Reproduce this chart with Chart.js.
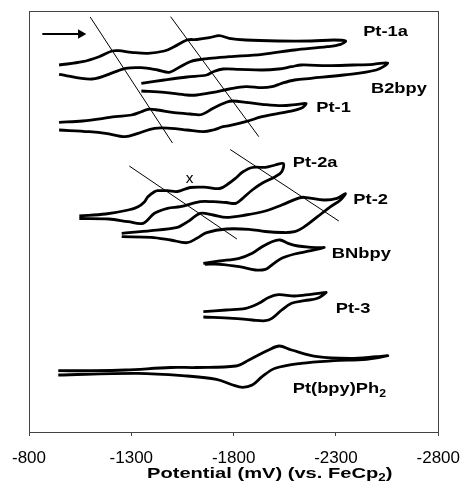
<!DOCTYPE html>
<html>
<head>
<meta charset="utf-8">
<script src="https://cdn.jsdelivr.net/npm/chart.js@4.4.1/dist/chart.umd.min.js"></script>
<style>
  html, body { margin: 0; padding: 0; background: #fff; }
</style>
</head>
<body>
<canvas id="cv" width="472" height="494"></canvas>
<script>
// Potentials in mV vs FeCp2; currents are stacked offsets in arbitrary units.
// Each loop runs forward (to negative potential) then back.
const pt1aV = [-947, -1062, -1142, -1206, -1238, -1301, -1381, -1461, -1509, -1572, -1620, -1682, -1730, -1778, -1859, -2017, -2180, -2290, -2347,
               -2323, -2257, -2098, -1940, -1778, -1682, -1620, -1587, -1539, -1486, -1429, -1348, -1271, -1223, -1108, -947];
const pt1aI = [367, 370.3, 375.3, 381, 381.3, 379.7, 378.7, 381, 385.3, 392, 392.5, 394.3, 396.3, 393.7, 392, 391, 391, 392, 391,
               387.7, 385.3, 382, 377.7, 375.3, 373.7, 372, 370.3, 365.3, 359.7, 362, 364.3, 363.7, 360.3, 353, 357.7];

const b2bpyV = [-1349, -1461, -1572, -1668, -1700, -1748, -1827, -1939, -2019, -2083, -2130, -2258, -2385, -2481, -2553,
                -2497, -2338, -2178, -2098, -2035, -1987, -1939, -1859, -1779, -1700, -1620, -1572, -1461, -1349];
const b2bpyI = [348.7, 352, 355, 357, 360.3, 363, 362.7, 362, 363, 365.3, 367, 366.3, 367, 367.7, 369,
                362, 357, 353.7, 352, 348.7, 345.3, 344.3, 345.3, 343, 339.7, 337, 337, 339.7, 341];

const pt1V = [-947, -1062, -1222, -1301, -1349, -1381, -1429, -1509, -1588, -1644, -1700, -1764, -1796, -1859, -1939, -2035, -2114, -2154,
              -2130, -2066, -1939, -1859, -1779, -1748, -1700, -1652, -1572, -1492, -1413, -1333, -1270, -1174, -1094, -947];
const pt1I = [309.7, 311, 315.3, 317, 320.3, 322.7, 322, 319.3, 318, 317.5, 323.7, 329.7, 331, 329.7, 327.7, 326.3, 327.7, 328.5,
              323.7, 320.3, 315.3, 310.3, 306.3, 305.3, 302, 300.3, 302, 303.7, 303.7, 298.7, 295.3, 298.7, 300.3, 302];

const pt2aV = [-1046, -1174, -1285, -1333, -1365, -1381, -1413, -1429, -1477, -1525, -1588, -1668, -1732, -1779, -1811, -1844, -1891, -1955, -2003, -2043,
               -2035, -2003, -1939, -1891, -1844, -1811, -1764, -1700, -1636, -1540, -1477, -1413, -1357, -1285, -1190, -1046];
const pt2aI = [216, 218, 222, 225.3, 230.3, 235.3, 240.3, 241.3, 241.3, 240.5, 244.5, 244.7, 243.5, 249, 254, 260, 264.5, 264.7, 267, 268.5,
               260.3, 255.3, 248.7, 242, 233.7, 228.7, 229.5, 230.3, 230.3, 225.3, 223.7, 218.7, 208.7, 210.3, 213, 213.5];

const pt2V = [-1253, -1397, -1525, -1557, -1588, -1636, -1700, -1764, -1859, -1955, -2035, -2114, -2146, -2242, -2305, -2346,
              -2322, -2274, -2210, -2146, -2098, -2035, -1955, -1875, -1764, -1668, -1620, -1572, -1492, -1397, -1253];
const pt2I = [198.7, 201.3, 204.7, 208, 212, 218.7, 217, 214.7, 217, 221, 227, 233.7, 234.7, 232, 233.7, 238.5,
              232, 225.3, 215.3, 205.3, 200.3, 199.5, 200.5, 202.7, 203, 199.3, 193.7, 189.3, 192, 194.7, 195.3];

const bnbpyV = [-1652, -1732, -1827, -1891, -1939, -1987, -2027, -2066, -2114, -2178, -2226, -2242,
                -2178, -2098, -2035, -1987, -1955, -1907, -1827, -1732, -1660];
const bnbpyI = [168.7, 171, 173.7, 178.7, 185.3, 190.3, 192, 188.7, 186, 184.7, 184.3, 184.5,
                181.3, 178, 173.7, 167, 162.7, 162, 165.3, 167.7, 167.7];

const pt3V = [-1652, -1764, -1859, -1923, -1971, -2019, -2098, -2178, -2242, -2252,
              -2210, -2146, -2083, -2035, -1987, -1955, -1891, -1796, -1652];
const pt3I = [120.3, 122, 123.7, 128.7, 134.5, 137.3, 136, 137.7, 139.3, 139.5,
              133.7, 131.3, 128.7, 122, 113.7, 111.3, 112, 113.7, 115];

const ptPh2V = [-943, -1094, -1270, -1492, -1620, -1811, -1875, -1971, -2023, -2083, -2210, -2370, -2497, -2553,
                -2449, -2290, -2130, -2003, -1939, -1891, -1844, -1796, -1716, -1572, -1333, -943];
const ptPh2I = [61.3, 61.3, 62, 64.5, 64.5, 66, 72, 82, 86, 82, 75.3, 73.7, 75.3, 76.3,
                72.7, 71.3, 68.7, 63.7, 55.3, 47, 44.7, 47, 52.7, 56, 58.7, 57];

// thin guide lines through the matching waves
const guideAV = [-1099, -1501], guideAI = [415, 289];
const guideBV = [-1492, -1923], guideBI = [415.3, 295.3];
const guideCV = [-1290, -1816], guideCI = [266, 193];
const guideDV = [-1783, -2314], guideDI = [282.5, 211];

// scan direction arrow
const arrowV = [-865, -1053], arrowI = [398, 398];

const xTicks = [-800, -1300, -1800, -2300, -2800];

// trace names, anchored at their left edge
const traceNames = [
  { text: 'Pt-1a', v: -2433, i: 400 },
  { text: 'B2bpy', v: -2471, i: 343 },
  { text: 'Pt-1', v: -2204, i: 324 },
  { text: 'Pt-2a', v: -2089, i: 269 },
  { text: 'Pt-2', v: -2385, i: 232 },
  { text: 'BNbpy', v: -2280, i: 178 },
  { text: 'Pt-3', v: -2299, i: 123 },
  { text: 'Pt(bpy)Ph', sub: '2', v: -2089, i: 43 }
];
const crossMark = { text: 'x', v: -1585, i: 252.7 };

const pts = (vs, is) => vs.map((v, k) => ({ x: v, y: is[k] }));
const FONT = '"Liberation Sans", Arial, sans-serif';

const trace = (vs, is) => ({
  data: pts(vs, is), borderColor: '#000', borderWidth: 2.8,
  pointRadius: 0, tension: 0.35, fill: false
});
const guide = (vs, is) => ({
  data: pts(vs, is), borderColor: '#000', borderWidth: 1,
  pointRadius: 0, tension: 0, fill: false
});

function wideText(ctx, str, px, py, sx) {
  ctx.save();
  ctx.translate(px, py);
  ctx.scale(sx, 1);
  ctx.fillText(str, 0, 0);
  const w = ctx.measureText(str).width * sx;
  ctx.restore();
  return w;
}

const annotate = {
  id: 'annotate',
  afterDraw(chart) {
    const { ctx, chartArea: a, scales: { x, y } } = chart;
    ctx.save();
    // plot frame
    ctx.strokeStyle = '#444';
    ctx.lineWidth = 1;
    ctx.strokeRect(Math.round(a.left) + 0.5, Math.round(a.top) + 0.5,
                   Math.round(a.right - a.left), Math.round(a.bottom - a.top));

    ctx.fillStyle = '#000';
    ctx.textBaseline = 'middle';
    ctx.textAlign = 'left';
    for (const n of traceNames) {
      const px = x.getPixelForValue(n.v), py = y.getPixelForValue(n.i);
      ctx.font = 'bold 15px ' + FONT;
      const w = wideText(ctx, n.text, px, py, 1.22);
      if (n.sub) {
        ctx.font = 'bold 10px ' + FONT;
        wideText(ctx, n.sub, px + w, py + 5, 1.22);
      }
    }

    ctx.font = '14px ' + FONT;
    ctx.textAlign = 'center';
    wideText(ctx, crossMark.text, x.getPixelForValue(crossMark.v), y.getPixelForValue(crossMark.i), 1.1);

    // axis title with subscript
    ctx.textAlign = 'left';
    ctx.textBaseline = 'alphabetic';
    ctx.font = 'bold 15px ' + FONT;
    let tx = 147;
    const ty = 478;
    tx += wideText(ctx, 'Potential (mV) (vs. FeCp', tx, ty, 1.34);
    ctx.font = 'bold 10px ' + FONT;
    tx += wideText(ctx, '2', tx, ty + 3, 1.34);
    ctx.font = 'bold 15px ' + FONT;
    wideText(ctx, ')', tx, ty, 1.34);
    ctx.restore();
  }
};

new Chart(document.getElementById('cv'), {
  type: 'line',
  data: {
    datasets: [
      trace(pt1aV, pt1aI),
      trace(b2bpyV, b2bpyI),
      trace(pt1V, pt1I),
      trace(pt2aV, pt2aI),
      trace(pt2V, pt2I),
      trace(bnbpyV, bnbpyI),
      trace(pt3V, pt3I),
      trace(ptPh2V, ptPh2I),
      guide(guideAV, guideAI),
      guide(guideBV, guideBI),
      guide(guideCV, guideCI),
      guide(guideDV, guideDI),
      {
        data: pts(arrowV, arrowI), borderColor: '#000', backgroundColor: '#000',
        borderWidth: 2, pointRadius: [0, 5.5], pointStyle: 'triangle', pointRotation: 90,
        pointBorderWidth: 0, tension: 0, fill: false
      }
    ]
  },
  options: {
    responsive: false,
    animation: false,
    devicePixelRatio: 1,
    layout: { padding: { top: 11, left: 28, right: 25, bottom: 0 } },
    plugins: { legend: { display: false }, tooltip: { enabled: false } },
    scales: {
      x: {
        type: 'linear',
        reverse: true,
        min: -2800,
        max: -800,
        afterFit(scale) { scale.height = 62; },
        afterBuildTicks(scale) { scale.ticks = xTicks.map(v => ({ value: v })); },
        border: { display: false },
        grid: { drawOnChartArea: false, drawTicks: true, tickLength: 4, color: '#444' },
        ticks: {
          color: '#000', padding: 12, font: { family: FONT, size: 17 }, maxRotation: 0,
          callback: v => String(v)
        }
      },
      y: { display: false, min: 0, max: 421 }
    }
  },
  plugins: [annotate]
});
</script>
</body>
</html>
